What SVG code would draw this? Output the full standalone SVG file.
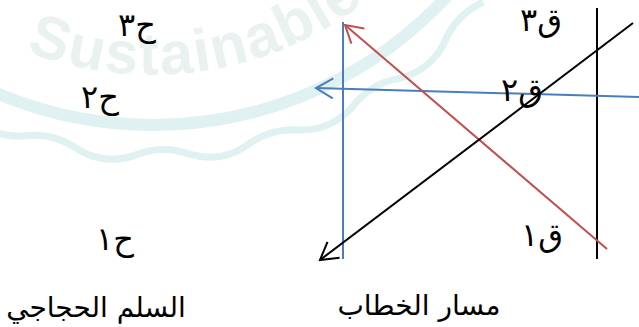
<svg xmlns="http://www.w3.org/2000/svg" width="639" height="327" viewBox="0 0 639 327">
  <style>
    .lbl { font-family: "DejaVu Sans", "Noto Sans", sans-serif; font-size: 32px; fill: #000; text-anchor: middle; direction: rtl; }
    .cap { font-family: "DejaVu Sans", "Noto Sans", sans-serif; font-size: 28px; fill: #000; text-anchor: middle; direction: rtl; }
    .ln { fill: none; stroke-width: 2; }
    .blk { stroke: #000; }
    .blu { stroke: #4a7ebb; }
    .red { stroke: #c0504d; }
    .wm { fill: none; stroke: #d8eeee; }
  </style>
  <defs>
    <path id="wmArc" d="M 0 40 A 350 350 0 0 0 450 -92"/>
    <marker id="ahBlk" markerUnits="userSpaceOnUse" markerWidth="30" markerHeight="30" viewBox="-20 -15 30 30" refX="0" refY="0" orient="auto" overflow="visible">
      <path d="M -17 -10 L 0 0 L -17 10" fill="none" stroke="#000" stroke-width="2"/>
    </marker>
    <marker id="ahBlu" markerUnits="userSpaceOnUse" markerWidth="30" markerHeight="30" viewBox="-20 -15 30 30" refX="0" refY="0" orient="auto" overflow="visible">
      <path d="M -17 -10 L 0 0 L -17 10" fill="none" stroke="#4a7ebb" stroke-width="2"/>
    </marker>
    <marker id="ahRed" markerUnits="userSpaceOnUse" markerWidth="30" markerHeight="30" viewBox="-20 -15 30 30" refX="0" refY="0" orient="auto" overflow="visible">
      <path d="M -17 -10 L 0 0 L -17 10" fill="none" stroke="#c0504d" stroke-width="2"/>
    </marker>
  </defs>
  <rect width="639" height="327" fill="#fff"/>

  <g id="watermark" opacity="0.8">
    <circle cx="153" cy="-275" r="400" class="wm" stroke-width="12"/>
    <path class="wm" stroke-width="7" stroke="#e0f1f1" d="M -29.1 115.6 Q -7.5 137.9 23.4 136 Q 53.4 132 78.2 149.5 Q 104.8 165.4 134.2 155.6 Q 162.1 143.9 190.6 154.4 Q 220.4 162.9 246.3 145.8 Q 270.2 127.3 300.4 130 Q 331.4 130.5 352 107.3 Q 370.4 83.2 400.2 78.1 Q 430.3 70.5 444.2 42.8 Q 455.7 14.7 483.2 2"/>
    <text font-family="Liberation Sans, Arial, sans-serif" font-weight="bold" font-size="60" fill="#e6eeee" letter-spacing="2"><textPath href="#wmArc" startOffset="28">Sustainable</textPath></text>
  </g>

  <g id="connectors">
    <line class="ln blu" x1="343" y1="22" x2="343" y2="259"/>
    <line class="ln blk" x1="597" y1="8" x2="597" y2="259"/>
    <line class="ln blu" x1="640" y1="97" x2="316" y2="88" marker-end="url(#ahBlu)"/>
    <line class="ln red" x1="607" y1="249" x2="345" y2="25" marker-end="url(#ahRed)"/>
    <line class="ln blk" x1="633" y1="23" x2="320" y2="260" marker-end="url(#ahBlk)"/>
  </g>

  <g id="h3"><text class="lbl" x="137" y="36">ح٣</text></g>
  <g id="h2"><text class="lbl" x="100" y="108">ح٢</text></g>
  <g id="h1"><text class="lbl" x="115" y="250">ح١</text></g>
  <g id="q3"><text class="lbl" x="541" y="31">ق٣</text></g>
  <g id="q2"><text class="lbl" x="522" y="101">ق٢</text></g>
  <g id="q1"><text class="lbl" x="542" y="246">ق١</text></g>
  <g id="title-right"><text class="cap" x="419" y="315">مسار الخطاب</text></g>
  <g id="title-left"><text class="cap" x="96" y="317">السلم الحجاجي</text></g>
</svg>
